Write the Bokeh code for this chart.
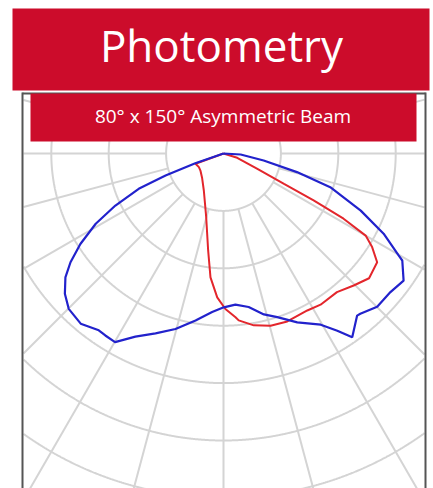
import numpy as np
from bokeh.plotting import figure
from bokeh.models import Range1d
from bokeh.core.properties import value
from bokeh.embed import file_html
from bokeh.resources import INLINE

# ---------------- data ----------------
title_text = "Photometry"
subtitle_text = "80° x 150° Asymmetric Beam"

# polar curves: angle from nadir in degrees (negative = left), intensity (ring = 100)
blue_angle = [-90, -70.9, -69.2, -67.4, -64.3, -61.2, -57.7, -54.6, -51.9, -48.5,
              -44.9, -40.0, -35.2, -33.0, -29.9, -25.7, -20.7, -15.3, -9.5, -4.1,
              0.1, 4.5, 9.3, 14.1, 18.2, 23.6, 29.6, 32.7, 35.0, 39.5,
              40.5, 45.1, 50.3, 54.8, 59.1, 59.8, 63.4, 67.4, 72.5, 75.8,
              80.1, 86.6, 90]
blue_intensity = [0, 52, 108, 160, 209, 254, 295, 327, 350, 369,
                  382, 387, 377, 378, 379, 354, 335, 317, 295, 277,
                  268, 264, 271, 289, 300, 321, 343, 367, 391, 366,
                  367, 378, 378, 384, 363, 353, 312, 259, 195, 132,
                  71, 30, 0]

red_angle = [-90, -69.8, -61.0, -53.5, -40.7, -28.0, -15.2, -9.0, -6.0, -2.5,
             0.7, 4.2, 5.2, 10.0, 15.3, 20.8, 28.1, 32.7, 39.3, 44.6,
             49.4, 54.7, 57.8, 60.0, 61.5, 62.5, 63.3, 65.6, 72.6, 90]
red_intensity = [0, 52, 49, 50, 57, 73, 115, 171, 217, 251,
                 271, 286, 292, 304, 311, 313, 310, 313, 312, 323,
                 334, 328, 306, 286, 238, 177, 118, 64, 25, 0]

ring_values = [100, 200, 300, 400, 500, 600, 700, 800]
spoke_angles = list(range(0, 360, 15))

# ---------------- layout helpers ----------------
S = 0.574          # pixels per intensity unit
CX, CY = 223, 153  # polar centre in page pixels
W, H = 433, 488


def px(x):
    return (x - CX) / S


def py(y):
    return (CY - y) / S


def polar(ang, r):
    a = np.radians(np.asarray(ang, dtype=float))
    r = np.asarray(r, dtype=float)
    return r * np.sin(a), -r * np.cos(a)


p = figure(width=W, height=H, output_backend="svg", toolbar_location=None,
           x_range=Range1d(px(0), px(W)), y_range=Range1d(py(H), py(0)),
           x_axis_type=None, y_axis_type=None, min_border=0,
           background_fill_color="white", border_fill_color="white",
           outline_line_color=None)
p.grid.visible = False

# clip rectangle (inside the dark frame)
XMIN, XMAX = px(23), px(424)
YMIN, YMAX = py(600), py(94)


def clip_poly(x, y):
    x = np.asarray(x, dtype=float).copy()
    y = np.asarray(y, dtype=float).copy()
    out = (x < XMIN) | (x > XMAX) | (y < YMIN) | (y > YMAX)
    x[out] = np.nan
    y[out] = np.nan
    return list(x), list(y)


def clip_segment(x0, y0, x1, y1):
    # Liang-Barsky
    dx, dy = x1 - x0, y1 - y0
    t0, t1 = 0.0, 1.0
    for pp, qq in ((-dx, x0 - XMIN), (dx, XMAX - x0), (-dy, y0 - YMIN), (dy, YMAX - y0)):
        if abs(pp) < 1e-12:
            if qq < 0:
                return None
            continue
        r = qq / pp
        if pp < 0:
            t0 = max(t0, r)
        else:
            t1 = min(t1, r)
        if t0 > t1:
            return None
    return [x0 + t0 * dx, x0 + t1 * dx], [y0 + t0 * dy, y0 + t1 * dy]


grid_col = "#d4d4d4"
gx, gy = [], []
t = np.linspace(0, 2 * np.pi, 3601)
for rv in ring_values:
    cx_, cy_ = clip_poly(rv * np.cos(t), rv * np.sin(t))
    gx.append(cx_)
    gy.append(cy_)
r0, r1 = ring_values[0], 1200
for a in spoke_angles:
    x0, y0 = polar([a], [r0])
    x1, y1 = polar([a], [r1])
    seg = clip_segment(x0[0], y0[0], x1[0], y1[0])
    if seg is not None:
        gx.append(seg[0])
        gy.append(seg[1])
p.multi_line(gx, gy, line_color=grid_col, line_width=2)

# curves
rx, ry = polar(red_angle, red_intensity)
p.line(rx, ry, line_color="#e3262c", line_width=2)
bx, by = polar(blue_angle, blue_intensity)
p.line(bx, by, line_color="#2222cc", line_width=2.2)

# frame
frame_col = "#555555"
p.multi_line([[px(22), px(22)], [px(22), px(425)], [px(425), px(425)]],
             [[py(92), py(600)], [py(93), py(93)], [py(92), py(600)]],
             line_color=frame_col, line_width=2)

# header boxes
red = "#cc0c2b"
p.quad(left=[px(12)], right=[px(429)], top=[py(8)], bottom=[py(90)],
       fill_color=red, line_color=None)
p.quad(left=[px(30)], right=[px(416)], top=[py(93)], bottom=[py(141)],
       fill_color=red, line_color=None)

p.text(x=[px(221)], y=[py(44)], text=[title_text], text_color="white",
       text_font=value("Open Sans"), text_font_size="44px",
       text_align="center", text_baseline="alphabetic")
p.text(x=[px(222.5)], y=[py(115.5)], text=[subtitle_text], text_color="white",
       text_font=value("Open Sans"), text_font_size="19px",
       text_align="center", text_baseline="alphabetic")

open("out.html", "w").write(file_html(p, INLINE))
